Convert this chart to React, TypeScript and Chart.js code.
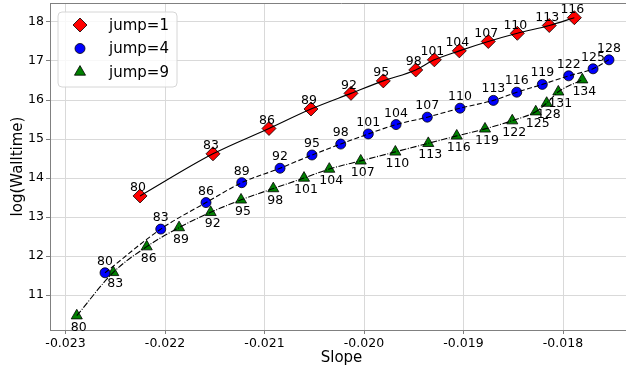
import React, { useEffect, useRef } from 'react';
import { Chart, registerables } from 'chart.js';

Chart.register(...registerables);

// ---- data ----
const jump1Iters = ['80', '83', '86', '89', '92', '95', '98', '101', '104', '107', '110', '113', '116'];
const jump1Slope = [-0.022251, -0.021518, -0.020955, -0.020533, -0.020131, -0.019806, -0.01948, -0.019293, -0.019042, -0.018751, -0.018459, -0.018138, -0.017886];
const jump1LogTime = [13.54, 14.62, 15.27, 15.77, 16.17, 16.49, 16.77, 17.03, 17.26, 17.5, 17.71, 17.91, 18.11];

const jump4Iters = ['80', '83', '86', '89', '92', '95', '98', '101', '104', '107', '110', '113', '116', '119', '122', '125', '128'];
const jump4Slope = [-0.022603, -0.022043, -0.021588, -0.021229, -0.020844, -0.020523, -0.020234, -0.019957, -0.019678, -0.019364, -0.019035, -0.0187, -0.018465, -0.018208, -0.017943, -0.017698, -0.017538];
const jump4LogTime = [11.57, 12.69, 13.37, 13.88, 14.25, 14.59, 14.87, 15.13, 15.37, 15.56, 15.79, 15.99, 16.2, 16.4, 16.62, 16.8, 17.03];

const jump9Iters = ['80', '83', '86', '89', '92', '95', '98', '101', '104', '107', '110', '113', '116', '119', '122', '125', '128', '131', '134'];
const jump9Slope = [-0.022887, -0.02252, -0.022184, -0.021859, -0.021541, -0.021236, -0.020912, -0.020603, -0.020349, -0.020033, -0.019685, -0.019354, -0.019068, -0.018784, -0.01851, -0.018274, -0.018164, -0.018047, -0.017806];
const jump9LogTime = [10.47, 11.58, 12.24, 12.73, 13.12, 13.44, 13.73, 14.0, 14.23, 14.44, 14.67, 14.89, 15.08, 15.26, 15.47, 15.7, 15.92, 16.21, 16.52];

const seriesNames = ['jump=1', 'jump=4', 'jump=9'];

const xTickValues = [-0.023, -0.022, -0.021, -0.02, -0.019, -0.018];
const xTickLabels = ['-0.023', '-0.022', '-0.021', '-0.020', '-0.019', '-0.018'];
const yTickValues = [11, 12, 13, 14, 15, 16, 17, 18];
const yTickLabels = ['11', '12', '13', '14', '15', '16', '17', '18'];

const FONT = 'DejaVu Sans';

const toPts = (xs: number[], ys: number[]) => xs.map((x, i) => ({ x, y: ys[i] }));

type MarkerDef = { style: string; radius: number; fill: string };
const markers: MarkerDef[] = [
  { style: 'rectRot', radius: 7, fill: '#ff0000' },
  { style: 'circle', radius: 5, fill: '#0000ff' },
  { style: 'triangle', radius: 6.4, fill: '#008000' },
];

function drawMarker(ctx: CanvasRenderingContext2D, m: MarkerDef, x: number, y: number) {
  ctx.save();
  ctx.beginPath();
  const r = m.radius;
  if (m.style === 'rectRot') {
    ctx.moveTo(x, y - r);
    ctx.lineTo(x + r, y);
    ctx.lineTo(x, y + r);
    ctx.lineTo(x - r, y);
    ctx.closePath();
  } else if (m.style === 'circle') {
    ctx.arc(x, y, r, 0, Math.PI * 2);
  } else {
    const a = Math.PI * 2 / 3;
    ctx.moveTo(x, y - r);
    ctx.lineTo(x + Math.sin(a) * r, y - Math.cos(a) * r);
    ctx.lineTo(x + Math.sin(2 * a) * r, y - Math.cos(2 * a) * r);
    ctx.closePath();
  }
  ctx.fillStyle = m.fill;
  ctx.fill();
  ctx.lineWidth = 0.8;
  ctx.strokeStyle = '#000';
  ctx.stroke();
  ctx.restore();
}

const labelPlugin = {
  id: 'pointLabels',
  afterDatasetsDraw(chart: any) {
    const ctx = chart.ctx as CanvasRenderingContext2D;
    const groups = [
      { ds: 0, iters: jump1Iters, dx: -2, dy: -4.5 },
      { ds: 1, iters: jump4Iters, dx: 0, dy: -8 },
      { ds: 2, iters: jump9Iters, dx: 2, dy: 15 },
    ];
    ctx.save();
    ctx.font = `12.5px "${FONT}"`;
    ctx.fillStyle = '#000';
    ctx.textAlign = 'center';
    ctx.textBaseline = 'alphabetic';
    groups.forEach((g) => {
      const meta = chart.getDatasetMeta(g.ds);
      meta.data.forEach((el: any, i: number) => {
        ctx.fillText(g.iters[i], el.x + g.dx, el.y + g.dy);
      });
    });
    ctx.restore();
  },
};

const framePlugin = {
  id: 'frameAndLegend',
  afterDraw(chart: any) {
    const ctx = chart.ctx as CanvasRenderingContext2D;
    const a = chart.chartArea;
    ctx.save();
    ctx.strokeStyle = '#808080';
    ctx.lineWidth = 1;
    ctx.beginPath();
    ctx.moveTo(a.left, a.top + 0.5);
    ctx.lineTo(a.right, a.top + 0.5);
    ctx.moveTo(a.right - 0.5, a.top);
    ctx.lineTo(a.right - 0.5, a.bottom);
    ctx.stroke();

    // legend box
    const bx = a.left + 8;
    const by = a.top + 9;
    const bw = 119;
    const bh = 75;
    const rr = 4;
    ctx.beginPath();
    ctx.moveTo(bx + rr, by);
    ctx.lineTo(bx + bw - rr, by);
    ctx.arcTo(bx + bw, by, bx + bw, by + rr, rr);
    ctx.lineTo(bx + bw, by + bh - rr);
    ctx.arcTo(bx + bw, by + bh, bx + bw - rr, by + bh, rr);
    ctx.lineTo(bx + rr, by + bh);
    ctx.arcTo(bx, by + bh, bx, by + bh - rr, rr);
    ctx.lineTo(bx, by + rr);
    ctx.arcTo(bx, by, bx + rr, by, rr);
    ctx.closePath();
    ctx.fillStyle = 'rgba(255,255,255,0.8)';
    ctx.fill();
    ctx.strokeStyle = '#d6d6d6';
    ctx.lineWidth = 1;
    ctx.stroke();

    ctx.font = `15px "${FONT}"`;
    ctx.fillStyle = '#000';
    ctx.textAlign = 'left';
    ctx.textBaseline = 'middle';
    seriesNames.forEach((name, i) => {
      const cy = by + 13 + i * 23.5;
      drawMarker(ctx, markers[i], bx + 22, cy);
      ctx.fillText(name, bx + 51, cy + 1);
    });
    ctx.restore();
  },
};

export default function App() {
  const ref = useRef<HTMLCanvasElement | null>(null);

  useEffect(() => {
    if (!ref.current) return;
    const d1 = toPts(jump1Slope, jump1LogTime);
    const d4 = toPts(jump4Slope, jump4LogTime);
    const d9 = toPts(jump9Slope, jump9LogTime);
    const markerDs = (label: string, data: any[], m: MarkerDef) => ({
      type: 'scatter' as const,
      label,
      data,
      showLine: false,
      pointStyle: m.style,
      pointRadius: m.radius,
      pointHoverRadius: m.radius,
      backgroundColor: m.fill,
      borderColor: '#000',
      borderWidth: 0.8,
      order: 2,
    });
    const lineDs = (label: string, data: any[], dash: number[]) => ({
      type: 'scatter' as const,
      label,
      data,
      showLine: true,
      pointRadius: 0,
      borderColor: '#000',
      borderWidth: 1.1,
      borderDash: dash,
      cubicInterpolationMode: 'monotone' as const,
      fill: false,
      order: 1,
    });

    const chart = new Chart(ref.current, {
      type: 'scatter',
      data: {
        datasets: [
          markerDs(seriesNames[0], d1, markers[0]),
          markerDs(seriesNames[1], d4, markers[1]),
          markerDs(seriesNames[2], d9, markers[2]),
          lineDs(seriesNames[0] + ' line', d1, []),
          lineDs(seriesNames[1] + ' line', d4, [5, 2.5]),
          lineDs(seriesNames[2] + ' line', d9, [6.4, 1.6, 1, 1.6]),
        ] as any,
      },
      options: {
        animation: false,
        responsive: false,
        maintainAspectRatio: false,
        devicePixelRatio: 1,
        layout: { autoPadding: false, padding: { top: 3, right: 0, left: 0, bottom: 0 } },
        plugins: {
          legend: { display: false },
          tooltip: { enabled: false },
        },
        scales: {
          x: {
            type: 'linear',
            min: -0.023156,
            max: -0.0172965,
            afterBuildTicks: (s: any) => {
              s.ticks = xTickValues.map((v) => ({ value: v }));
            },
            afterFit: (s: any) => {
              s.height = 39;
              s.paddingLeft = 0;
              s.paddingRight = 0;
            },
            ticks: {
              callback: (v: any) => {
                const i = xTickValues.findIndex((t) => Math.abs(t - Number(v)) < 1e-9);
                return i >= 0 ? xTickLabels[i] : '';
              },
              font: { family: FONT, size: 12.5 },
              color: '#000',
              padding: 2,
              maxRotation: 0,
              autoSkip: false,
            },
            grid: { color: '#d9d9d9', tickColor: '#808080', tickLength: 4, lineWidth: 1 },
            border: { color: '#808080', width: 1 },
            title: {
              display: true,
              text: 'Slope',
              font: { family: FONT, size: 15 },
              color: '#000',
              padding: { top: 0, bottom: 2 },
            },
          },
          y: {
            type: 'linear',
            min: 10.103,
            max: 18.487,
            afterBuildTicks: (s: any) => {
              s.ticks = yTickValues.map((v) => ({ value: v }));
            },
            afterFit: (s: any) => {
              s.width = 50;
              s.paddingTop = 0;
              s.paddingBottom = 0;
            },
            ticks: {
              callback: (v: any) => {
                const i = yTickValues.findIndex((t) => Math.abs(t - Number(v)) < 1e-9);
                return i >= 0 ? yTickLabels[i] : '';
              },
              font: { family: FONT, size: 12.5 },
              color: '#000',
              padding: 2,
              autoSkip: false,
            },
            grid: { color: '#d9d9d9', tickColor: '#808080', tickLength: 4, lineWidth: 1 },
            border: { color: '#808080', width: 1 },
            title: {
              display: true,
              text: 'log(Walltime)',
              font: { family: FONT, size: 15 },
              color: '#000',
              padding: { top: 9, bottom: 0 },
            },
          },
        },
      } as any,
      plugins: [labelPlugin, framePlugin],
    });
    return () => chart.destroy();
  }, []);

  return (
    <div style={{ position: 'fixed', left: 0, top: 0, width: 626, height: 369, overflow: 'hidden', background: '#fff' }}>
      <canvas ref={ref} width={633} height={369} style={{ display: 'block', width: 633, height: 369 }} />
    </div>
  );
}
